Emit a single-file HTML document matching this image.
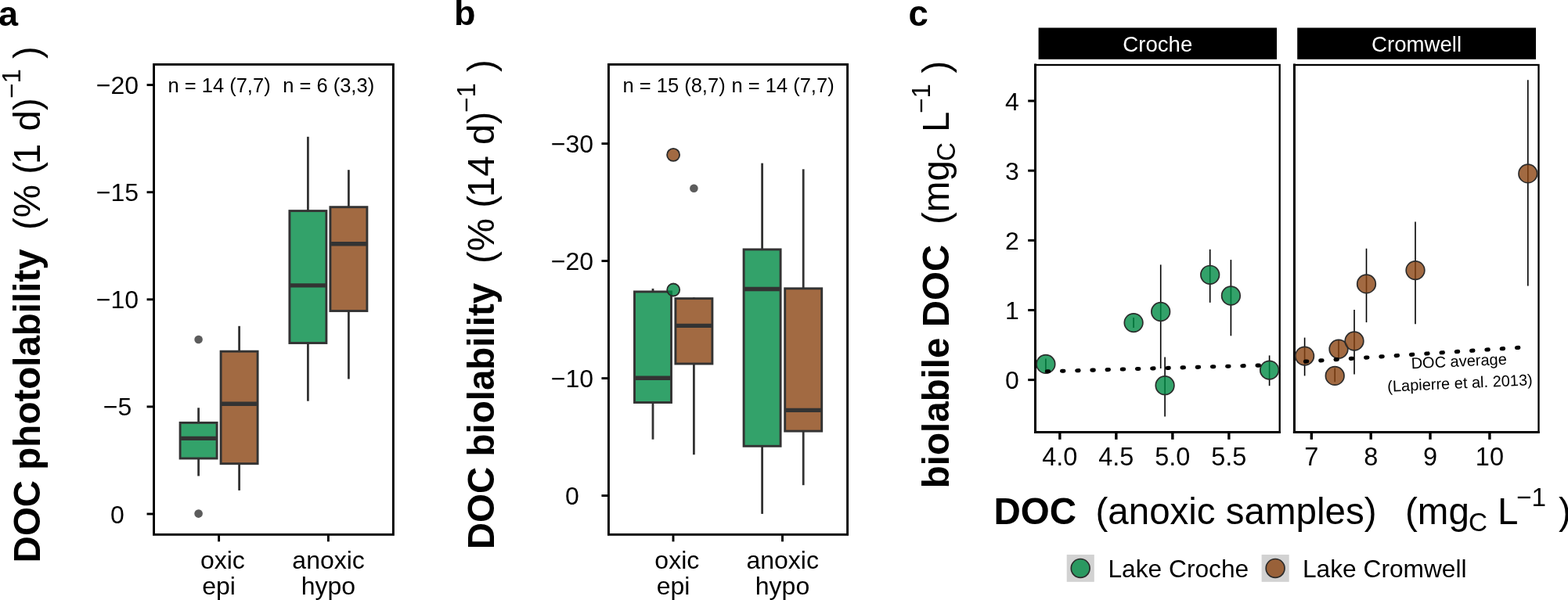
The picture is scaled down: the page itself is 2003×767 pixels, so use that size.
<!DOCTYPE html>
<html><head><meta charset="utf-8"><title>DOC lability figure</title>
<style>html,body{margin:0;padding:0;background:#fff;width:2003px;height:767px;overflow:hidden}
svg{display:block;font-family:"Liberation Sans", Arial, Helvetica, sans-serif}</style></head>
<body><svg width="2003" height="767" viewBox="0 0 2003 767">
<rect width="2003" height="767" fill="#fff"/>
<text x="-2" y="32.5" font-size="45" text-anchor="start" font-weight="bold" fill="#000" >a</text>
<text x="580" y="32" font-size="45" text-anchor="start" font-weight="bold" fill="#000" >b</text>
<text x="1160.5" y="32.5" font-size="45.5" text-anchor="start" font-weight="bold" fill="#000" >c</text>
<rect x="196.55" y="82.4" width="305.85" height="600.95" fill="none" stroke="#000" stroke-width="2.9"/>
<line x1="187.55" y1="108.6" x2="196.55" y2="108.6" stroke="#000" stroke-width="2.9" />
<text x="150" y="120.1" font-size="32" text-anchor="middle" font-weight="normal" fill="#000" >−20</text>
<line x1="187.55" y1="245.7" x2="196.55" y2="245.7" stroke="#000" stroke-width="2.9" />
<text x="150" y="257.2" font-size="32" text-anchor="middle" font-weight="normal" fill="#000" >−15</text>
<line x1="187.55" y1="382.8" x2="196.55" y2="382.8" stroke="#000" stroke-width="2.9" />
<text x="150" y="394.3" font-size="32" text-anchor="middle" font-weight="normal" fill="#000" >−10</text>
<line x1="187.55" y1="519.9" x2="196.55" y2="519.9" stroke="#000" stroke-width="2.9" />
<text x="150" y="531.4" font-size="32" text-anchor="middle" font-weight="normal" fill="#000" >−5</text>
<line x1="187.55" y1="657.0" x2="196.55" y2="657.0" stroke="#000" stroke-width="2.9" />
<text x="150" y="668.5" font-size="32" text-anchor="middle" font-weight="normal" fill="#000" >0</text>
<line x1="279.6" y1="683.35" x2="279.6" y2="692.35" stroke="#000" stroke-width="2.9" />
<text x="284.4" y="726.6" font-size="32" text-anchor="middle" font-weight="normal" fill="#000" >oxic</text>
<text x="279.6" y="760.2" font-size="32" text-anchor="middle" font-weight="normal" fill="#000" >epi</text>
<line x1="419.4" y1="683.35" x2="419.4" y2="692.35" stroke="#000" stroke-width="2.9" />
<text x="419.6" y="726.6" font-size="32" text-anchor="middle" font-weight="normal" fill="#000" >anoxic</text>
<text x="419.4" y="760.2" font-size="32" text-anchor="middle" font-weight="normal" fill="#000" >hypo</text>
<text x="214.5" y="118" font-size="25.5" text-anchor="start" font-weight="normal" fill="#000" >n = 14 (7,7)</text>
<text x="361.2" y="118" font-size="25.5" text-anchor="start" font-weight="normal" fill="#000" >n = 6 (3,3)</text>
<line x1="253.6" y1="521.3" x2="253.6" y2="540.4" stroke="#333333" stroke-width="2.8" />
<line x1="253.6" y1="586.0" x2="253.6" y2="608.5" stroke="#333333" stroke-width="2.8" />
<rect x="230.1" y="540.4" width="47.0" height="45.6" fill="#fff" stroke="none"/>
<rect x="230.1" y="540.4" width="47.0" height="45.6" fill="#008B45" fill-opacity="0.8" stroke="#333333" stroke-width="2.9"/>
<line x1="230.1" y1="560.4" x2="277.1" y2="560.4" stroke="#333333" stroke-width="5.4" />
<line x1="305.6" y1="416.8" x2="305.6" y2="449.2" stroke="#333333" stroke-width="2.8" />
<line x1="305.6" y1="592.7" x2="305.6" y2="626.9" stroke="#333333" stroke-width="2.8" />
<rect x="282.1" y="449.2" width="47.0" height="143.5" fill="#fff" stroke="none"/>
<rect x="282.1" y="449.2" width="47.0" height="143.5" fill="#8B4513" fill-opacity="0.8" stroke="#333333" stroke-width="2.9"/>
<line x1="282.1" y1="516.2" x2="329.1" y2="516.2" stroke="#333333" stroke-width="5.4" />
<line x1="393.4" y1="174.8" x2="393.4" y2="269.6" stroke="#333333" stroke-width="2.8" />
<line x1="393.4" y1="438.5" x2="393.4" y2="512.7" stroke="#333333" stroke-width="2.8" />
<rect x="369.9" y="269.6" width="47.0" height="168.9" fill="#fff" stroke="none"/>
<rect x="369.9" y="269.6" width="47.0" height="168.9" fill="#008B45" fill-opacity="0.8" stroke="#333333" stroke-width="2.9"/>
<line x1="369.9" y1="364.9" x2="416.9" y2="364.9" stroke="#333333" stroke-width="5.4" />
<line x1="445.4" y1="217.2" x2="445.4" y2="264.7" stroke="#333333" stroke-width="2.8" />
<line x1="445.4" y1="397.5" x2="445.4" y2="484.5" stroke="#333333" stroke-width="2.8" />
<rect x="421.9" y="264.7" width="47.0" height="132.8" fill="#fff" stroke="none"/>
<rect x="421.9" y="264.7" width="47.0" height="132.8" fill="#8B4513" fill-opacity="0.8" stroke="#333333" stroke-width="2.9"/>
<line x1="421.9" y1="311.8" x2="468.9" y2="311.8" stroke="#333333" stroke-width="5.4" />
<circle cx="253.6" cy="434" r="5.3" fill="#333333" fill-opacity="0.8"/>
<circle cx="253.6" cy="656.6" r="5.3" fill="#333333" fill-opacity="0.8"/>
<rect x="777.45" y="82.4" width="305.15" height="600.95" fill="none" stroke="#000" stroke-width="2.9"/>
<line x1="768.45" y1="183.6" x2="777.45" y2="183.6" stroke="#000" stroke-width="2.9" />
<text x="731" y="195.1" font-size="32" text-anchor="middle" font-weight="normal" fill="#000" >−30</text>
<line x1="768.45" y1="333.6" x2="777.45" y2="333.6" stroke="#000" stroke-width="2.9" />
<text x="731" y="345.1" font-size="32" text-anchor="middle" font-weight="normal" fill="#000" >−20</text>
<line x1="768.45" y1="483.6" x2="777.45" y2="483.6" stroke="#000" stroke-width="2.9" />
<text x="731" y="495.1" font-size="32" text-anchor="middle" font-weight="normal" fill="#000" >−10</text>
<line x1="768.45" y1="633.6" x2="777.45" y2="633.6" stroke="#000" stroke-width="2.9" />
<text x="731" y="645.1" font-size="32" text-anchor="middle" font-weight="normal" fill="#000" >0</text>
<line x1="860" y1="683.35" x2="860" y2="692.35" stroke="#000" stroke-width="2.9" />
<text x="864.8" y="726.6" font-size="32" text-anchor="middle" font-weight="normal" fill="#000" >oxic</text>
<text x="860" y="760.2" font-size="32" text-anchor="middle" font-weight="normal" fill="#000" >epi</text>
<line x1="999.5" y1="683.35" x2="999.5" y2="692.35" stroke="#000" stroke-width="2.9" />
<text x="999.7" y="726.6" font-size="32" text-anchor="middle" font-weight="normal" fill="#000" >anoxic</text>
<text x="999.5" y="760.2" font-size="32" text-anchor="middle" font-weight="normal" fill="#000" >hypo</text>
<text x="795.5" y="118" font-size="25.5" text-anchor="start" font-weight="normal" fill="#000" >n = 15 (8,7)</text>
<text x="934.5" y="118" font-size="25.5" text-anchor="start" font-weight="normal" fill="#000" >n = 14 (7,7)</text>
<line x1="834" y1="368.9" x2="834" y2="372.9" stroke="#333333" stroke-width="2.8" />
<line x1="834" y1="514.5" x2="834" y2="561.7" stroke="#333333" stroke-width="2.8" />
<rect x="810.5" y="372.9" width="47.0" height="141.6" fill="#fff" stroke="none"/>
<rect x="810.5" y="372.9" width="47.0" height="141.6" fill="#008B45" fill-opacity="0.8" stroke="#333333" stroke-width="2.9"/>
<line x1="810.5" y1="483.2" x2="857.5" y2="483.2" stroke="#333333" stroke-width="5.4" />
<line x1="886.4" y1="380.2" x2="886.4" y2="381.6" stroke="#333333" stroke-width="2.8" />
<line x1="886.4" y1="465.0" x2="886.4" y2="581.2" stroke="#333333" stroke-width="2.8" />
<rect x="862.9" y="381.6" width="47.0" height="83.4" fill="#fff" stroke="none"/>
<rect x="862.9" y="381.6" width="47.0" height="83.4" fill="#8B4513" fill-opacity="0.8" stroke="#333333" stroke-width="2.9"/>
<line x1="862.9" y1="416.4" x2="909.9" y2="416.4" stroke="#333333" stroke-width="5.4" />
<line x1="973.6" y1="208.6" x2="973.6" y2="318.9" stroke="#333333" stroke-width="2.8" />
<line x1="973.6" y1="570.3" x2="973.6" y2="656.9" stroke="#333333" stroke-width="2.8" />
<rect x="950.1" y="318.9" width="47.0" height="251.4" fill="#fff" stroke="none"/>
<rect x="950.1" y="318.9" width="47.0" height="251.4" fill="#008B45" fill-opacity="0.8" stroke="#333333" stroke-width="2.9"/>
<line x1="950.1" y1="369.5" x2="997.1" y2="369.5" stroke="#333333" stroke-width="5.4" />
<line x1="1026.2" y1="216.3" x2="1026.2" y2="368.8" stroke="#333333" stroke-width="2.8" />
<line x1="1026.2" y1="551.1" x2="1026.2" y2="620.2" stroke="#333333" stroke-width="2.8" />
<rect x="1002.7" y="368.8" width="47.0" height="182.3" fill="#fff" stroke="none"/>
<rect x="1002.7" y="368.8" width="47.0" height="182.3" fill="#8B4513" fill-opacity="0.8" stroke="#333333" stroke-width="2.9"/>
<line x1="1002.7" y1="524.4" x2="1049.7" y2="524.4" stroke="#333333" stroke-width="5.4" />
<circle cx="886.4" cy="240.7" r="5.3" fill="#333333" fill-opacity="0.8"/>
<circle cx="860.1" cy="197.9" r="8" fill="#8B4513" fill-opacity="0.8" stroke="#2b2b2b" stroke-width="1.8"/>
<circle cx="860.2" cy="370.5" r="8" fill="#008B45" fill-opacity="0.8" stroke="#2b2b2b" stroke-width="1.8"/>
<rect x="1326.6" y="35.5" width="304.4" height="40.3" fill="#000"/>
<rect x="1657.2" y="35.5" width="304.8" height="40.3" fill="#000"/>
<text x="1478.8" y="66" font-size="27.6" text-anchor="middle" font-weight="normal" fill="#fff" >Croche</text>
<text x="1809.6" y="66" font-size="27.6" text-anchor="middle" font-weight="normal" fill="#fff" >Cromwell</text>
<rect x="1322.5" y="83" width="312.2" height="469.6" fill="none" stroke="#000" stroke-width="2.3"/>
<line x1="1322.5" y1="81.5" x2="1322.5" y2="554.1" stroke="#000" stroke-width="3.0" stroke-linecap="butt"/>
<line x1="1321.0" y1="552.6" x2="1635.9" y2="552.6" stroke="#000" stroke-width="3.0" />
<rect x="1653.4" y="83" width="312.1" height="469.6" fill="none" stroke="#000" stroke-width="2.3"/>
<line x1="1653.4" y1="81.5" x2="1653.4" y2="554.1" stroke="#000" stroke-width="3.0" stroke-linecap="butt"/>
<line x1="1651.9" y1="552.6" x2="1966.7" y2="552.6" stroke="#000" stroke-width="3.0" />
<line x1="1313.2" y1="485.6" x2="1322.5" y2="485.6" stroke="#000" stroke-width="3.0" />
<text x="1293" y="497.1" font-size="32" text-anchor="middle" font-weight="normal" fill="#000" >0</text>
<line x1="1313.2" y1="396.45" x2="1322.5" y2="396.45" stroke="#000" stroke-width="3.0" />
<text x="1293" y="407.95" font-size="32" text-anchor="middle" font-weight="normal" fill="#000" >1</text>
<line x1="1313.2" y1="307.3" x2="1322.5" y2="307.3" stroke="#000" stroke-width="3.0" />
<text x="1293" y="318.8" font-size="32" text-anchor="middle" font-weight="normal" fill="#000" >2</text>
<line x1="1313.2" y1="218.15" x2="1322.5" y2="218.15" stroke="#000" stroke-width="3.0" />
<text x="1293" y="229.65" font-size="32" text-anchor="middle" font-weight="normal" fill="#000" >3</text>
<line x1="1313.2" y1="129.0" x2="1322.5" y2="129.0" stroke="#000" stroke-width="3.0" />
<text x="1293" y="140.5" font-size="32" text-anchor="middle" font-weight="normal" fill="#000" >4</text>
<line x1="1353.85" y1="552.6" x2="1353.85" y2="561.8" stroke="#000" stroke-width="3.4" />
<text x="1353.85" y="594.8" font-size="32.5" text-anchor="middle" font-weight="normal" fill="#000" >4.0</text>
<line x1="1425.85" y1="552.6" x2="1425.85" y2="561.8" stroke="#000" stroke-width="3.4" />
<text x="1425.85" y="594.8" font-size="32.5" text-anchor="middle" font-weight="normal" fill="#000" >4.5</text>
<line x1="1497.85" y1="552.6" x2="1497.85" y2="561.8" stroke="#000" stroke-width="3.4" />
<text x="1497.85" y="594.8" font-size="32.5" text-anchor="middle" font-weight="normal" fill="#000" >5.0</text>
<line x1="1569.85" y1="552.6" x2="1569.85" y2="561.8" stroke="#000" stroke-width="3.4" />
<text x="1569.85" y="594.8" font-size="32.5" text-anchor="middle" font-weight="normal" fill="#000" >5.5</text>
<line x1="1675.3" y1="552.6" x2="1675.3" y2="561.8" stroke="#000" stroke-width="3.4" />
<text x="1675.3" y="594.8" font-size="32.5" text-anchor="middle" font-weight="normal" fill="#000" >7</text>
<line x1="1751.2" y1="552.6" x2="1751.2" y2="561.8" stroke="#000" stroke-width="3.4" />
<text x="1751.2" y="594.8" font-size="32.5" text-anchor="middle" font-weight="normal" fill="#000" >8</text>
<line x1="1827.0" y1="552.6" x2="1827.0" y2="561.8" stroke="#000" stroke-width="3.4" />
<text x="1827.0" y="594.8" font-size="32.5" text-anchor="middle" font-weight="normal" fill="#000" >9</text>
<line x1="1902.9" y1="552.6" x2="1902.9" y2="561.8" stroke="#000" stroke-width="3.4" />
<text x="1902.9" y="594.8" font-size="32.5" text-anchor="middle" font-weight="normal" fill="#000" >10</text>
<line x1="1335.9" y1="458.5" x2="1335.9" y2="475" stroke="#000" stroke-width="1.6" />
<line x1="1448.1" y1="406" x2="1448.1" y2="419" stroke="#000" stroke-width="1.6" />
<line x1="1482.7" y1="338.4" x2="1482.7" y2="471" stroke="#000" stroke-width="1.6" />
<line x1="1488.1" y1="456.4" x2="1488.1" y2="532.4" stroke="#000" stroke-width="1.6" />
<line x1="1545.7" y1="318.8" x2="1545.7" y2="386.8" stroke="#000" stroke-width="1.6" />
<line x1="1572.4" y1="332.1" x2="1572.4" y2="429.3" stroke="#000" stroke-width="1.6" />
<line x1="1621.6" y1="454.4" x2="1621.6" y2="493.2" stroke="#000" stroke-width="1.6" />
<circle cx="1335.9" cy="465.4" r="11.8" fill="#008B45" fill-opacity="0.8" stroke="#2b2b2b" stroke-width="1.7"/>
<circle cx="1448.1" cy="412.6" r="11.8" fill="#008B45" fill-opacity="0.8" stroke="#2b2b2b" stroke-width="1.7"/>
<circle cx="1482.7" cy="398.5" r="11.8" fill="#008B45" fill-opacity="0.8" stroke="#2b2b2b" stroke-width="1.7"/>
<circle cx="1488.1" cy="492.7" r="11.8" fill="#008B45" fill-opacity="0.8" stroke="#2b2b2b" stroke-width="1.7"/>
<circle cx="1545.7" cy="351.3" r="11.8" fill="#008B45" fill-opacity="0.8" stroke="#2b2b2b" stroke-width="1.7"/>
<circle cx="1572.4" cy="378" r="11.8" fill="#008B45" fill-opacity="0.8" stroke="#2b2b2b" stroke-width="1.7"/>
<circle cx="1621.6" cy="473.1" r="11.8" fill="#008B45" fill-opacity="0.8" stroke="#2b2b2b" stroke-width="1.7"/>
<line x1="1666.6" y1="431.6" x2="1666.6" y2="480.4" stroke="#000" stroke-width="1.6" />
<line x1="1705.2" y1="470.6" x2="1705.2" y2="488.3" stroke="#000" stroke-width="1.6" />
<line x1="1710" y1="435" x2="1710" y2="457" stroke="#000" stroke-width="1.6" />
<line x1="1730" y1="396" x2="1730" y2="478.6" stroke="#000" stroke-width="1.6" />
<line x1="1745.5" y1="317.7" x2="1745.5" y2="412.1" stroke="#000" stroke-width="1.6" />
<line x1="1808" y1="283.5" x2="1808" y2="414.3" stroke="#000" stroke-width="1.6" />
<line x1="1951.8" y1="102.2" x2="1951.8" y2="365.5" stroke="#000" stroke-width="1.6" />
<circle cx="1666.6" cy="455.1" r="11.8" fill="#8B4513" fill-opacity="0.8" stroke="#2b2b2b" stroke-width="1.7"/>
<circle cx="1705.2" cy="480.4" r="11.8" fill="#8B4513" fill-opacity="0.8" stroke="#2b2b2b" stroke-width="1.7"/>
<circle cx="1710" cy="446.2" r="11.8" fill="#8B4513" fill-opacity="0.8" stroke="#2b2b2b" stroke-width="1.7"/>
<circle cx="1730" cy="436" r="11.8" fill="#8B4513" fill-opacity="0.8" stroke="#2b2b2b" stroke-width="1.7"/>
<circle cx="1745.5" cy="362.9" r="11.8" fill="#8B4513" fill-opacity="0.8" stroke="#2b2b2b" stroke-width="1.7"/>
<circle cx="1808" cy="345.6" r="11.8" fill="#8B4513" fill-opacity="0.8" stroke="#2b2b2b" stroke-width="1.7"/>
<circle cx="1951.8" cy="221.9" r="11.8" fill="#8B4513" fill-opacity="0.8" stroke="#2b2b2b" stroke-width="1.7"/>
<line x1="1337.3" y1="474.8" x2="1611.5" y2="467.0" stroke="#000" stroke-width="5.1" stroke-dasharray="2.4 16.8" stroke-linecap="round"/>
<line x1="1667.4" y1="462.1" x2="1941.5" y2="444.3" stroke="#000" stroke-width="5.1" stroke-dasharray="2.4 16.93" stroke-linecap="round"/>
<g transform="rotate(-2.6 1864 468.5)"><text x="1864" y="468.5" font-size="20" text-anchor="middle">DOC average</text><text x="1864" y="496.5" font-size="20" text-anchor="middle">(Lapierre et al. 2013)</text></g>
<text transform="rotate(-90)" x="-719.4" y="50.8" font-size="47.5" font-weight="bold" xml:space="preserve">DOC photolability</text>
<text transform="rotate(-90)" x="-294.0" y="50.8" font-size="47.5" font-weight="normal" xml:space="preserve">(% (</text>
<text transform="rotate(-90)" x="-210.0" y="50.8" font-size="47.5" font-weight="normal" xml:space="preserve">1</text>
<text transform="rotate(-90)" x="-167.5" y="50.8" font-size="47.5" font-weight="normal" xml:space="preserve">d)</text>
<text transform="rotate(-90)" x="-126.0" y="26.4" font-size="33.25" font-weight="normal" xml:space="preserve">−1</text>
<text transform="rotate(-90)" x="-75.0" y="50.8" font-size="47.5" font-weight="normal" xml:space="preserve">)</text>
<text transform="rotate(-90)" x="-702.3" y="631.1" font-size="47.5" font-weight="bold" xml:space="preserve">DOC biolability</text>
<text transform="rotate(-90)" x="-337.0" y="631.1" font-size="47.5" font-weight="normal" xml:space="preserve">(% (</text>
<text transform="rotate(-90)" x="-252.0" y="631.1" font-size="47.5" font-weight="normal" xml:space="preserve">14</text>
<text transform="rotate(-90)" x="-185.0" y="631.1" font-size="47.5" font-weight="normal" xml:space="preserve">d)</text>
<text transform="rotate(-90)" x="-144.0" y="606.7" font-size="33.25" font-weight="normal" xml:space="preserve">−1</text>
<text transform="rotate(-90)" x="-92.0" y="631.1" font-size="47.5" font-weight="normal" xml:space="preserve">)</text>
<text transform="rotate(-90)" x="-624.2" y="1212.1" font-size="47.5" font-weight="bold" xml:space="preserve">biolabile DOC</text>
<text transform="rotate(-90)" x="-287.0" y="1212.1" font-size="47.5" font-weight="normal" xml:space="preserve">(mg</text>
<text transform="rotate(-90)" x="-206.0" y="1220.3" font-size="33.25" font-weight="normal" xml:space="preserve">C</text>
<text transform="rotate(-90)" x="-169.0" y="1212.1" font-size="47.5" font-weight="normal" xml:space="preserve">L</text>
<text transform="rotate(-90)" x="-145.0" y="1188.2" font-size="33.25" font-weight="normal" xml:space="preserve">−1</text>
<text transform="rotate(-90)" x="-93.5" y="1212.1" font-size="47.5" font-weight="normal" xml:space="preserve">)</text>
<text x="1269.5" y="670.2" font-size="47.5" font-weight="bold" xml:space="preserve">DOC</text>
<text x="1399.5" y="670.2" font-size="47.5" font-weight="normal" xml:space="preserve">(anoxic samples)</text>
<text x="1795.0" y="670.2" font-size="47.5" font-weight="normal" xml:space="preserve">(mg</text>
<text x="1876.0" y="678.9" font-size="33.25" font-weight="normal" xml:space="preserve">C</text>
<text x="1913.0" y="670.2" font-size="47.5" font-weight="normal" xml:space="preserve">L</text>
<text x="1937.0" y="646.9" font-size="33.25" font-weight="normal" xml:space="preserve">−1</text>
<text x="1991.0" y="670.2" font-size="47.5" font-weight="normal" xml:space="preserve">)</text>
<rect x="1362.7" y="709" width="35.1" height="34.8" fill="#d2d2d2"/>
<circle cx="1380.2" cy="726.4" r="11.9" fill="#008B45" fill-opacity="0.8" stroke="#2b2b2b" stroke-width="1.7"/>
<text x="1415.5" y="737.8" font-size="31.7" text-anchor="start" font-weight="normal" fill="#000" >Lake Croche</text>
<rect x="1611.6" y="709" width="35.1" height="34.8" fill="#d2d2d2"/>
<circle cx="1629.1" cy="726.4" r="11.9" fill="#8B4513" fill-opacity="0.8" stroke="#2b2b2b" stroke-width="1.7"/>
<text x="1664" y="737.8" font-size="31.7" text-anchor="start" font-weight="normal" fill="#000" >Lake Cromwell</text>
</svg></body></html>
